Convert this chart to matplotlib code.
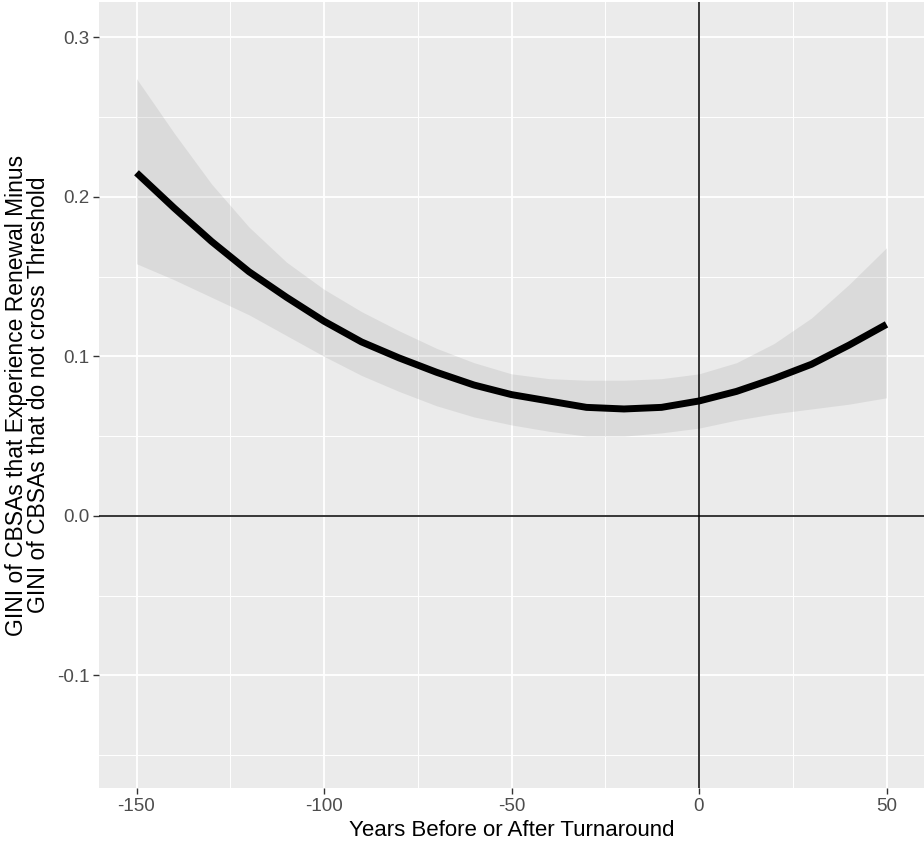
import matplotlib
matplotlib.use("Agg")
import matplotlib.pyplot as plt
from matplotlib.ticker import MultipleLocator

plt.rcParams['font.family'] = ['Liberation Sans', 'DejaVu Sans']

# values
years = [-150, -140, -130, -120, -110, -100, -90, -80, -70, -60, -50,
         -40, -30, -20, -10, 0, 10, 20, 30, 40, 50]
fit = [0.215, 0.193, 0.172, 0.153, 0.137, 0.122, 0.109, 0.099, 0.090, 0.082, 0.076,
       0.072, 0.068, 0.067, 0.068, 0.072, 0.078, 0.086, 0.095, 0.107, 0.120]
upper = [0.274, 0.240, 0.208, 0.181, 0.159, 0.142, 0.128, 0.116, 0.105, 0.096, 0.089,
         0.086, 0.085, 0.085, 0.086, 0.089, 0.096, 0.108, 0.124, 0.145, 0.168]
lower = [0.158, 0.148, 0.137, 0.126, 0.113, 0.100, 0.088, 0.078, 0.069, 0.062, 0.057,
         0.053, 0.050, 0.050, 0.052, 0.055, 0.060, 0.064, 0.067, 0.070, 0.074]

fig = plt.figure(figsize=(9.24, 8.46), dpi=100)
ax = fig.add_axes([99 / 924, 58 / 846, 1 - 99 / 924, 786 / 846])
ax.set_facecolor('#EBEBEB')
for s in ax.spines.values():
    s.set_visible(False)

ax.set_xlim(-160, 60)
ax.set_ylim(-0.1705, 0.322)
ax.xaxis.set_major_locator(MultipleLocator(50))
ax.xaxis.set_minor_locator(MultipleLocator(25))
ax.yaxis.set_major_locator(MultipleLocator(0.1))
ax.yaxis.set_minor_locator(MultipleLocator(0.05))
ax.grid(which='major', color='white', lw=1.3)
ax.grid(which='minor', color='white', lw=0.7)
ax.set_axisbelow(True)

ax.fill_between(years, lower, upper, color='#999999', alpha=0.2, lw=0, zorder=2)
ax.plot(years, fit, color='black', lw=5, zorder=3, solid_capstyle='butt')
ax.axhline(0, color='black', lw=1.1, zorder=4)
ax.axvline(0, color='black', lw=1.1, zorder=4)

ax.set_yticks([-0.1, 0.0, 0.1, 0.2, 0.3])
ax.set_yticklabels(['-0.1', '0.0', '0.1', '0.2', '0.3'])
ax.set_xticks([-150, -100, -50, 0, 50])
ax.set_xticklabels(['-150', '-100', '-50', '0', '50'])
ax.tick_params(which='major', length=4, width=1, color='#333333',
               labelcolor='#4D4D4D', labelsize=13.5, pad=3)
ax.tick_params(which='minor', length=0)

ax.set_xlabel('Years Before or After Turnaround', fontsize=16, labelpad=4)
ax.set_ylabel('GINI of CBSAs that Experience Renewal Minus\nGINI of CBSAs that do not cross Threshold',
              fontsize=16.5, labelpad=5, linespacing=0.95)

fig.savefig('out.png', dpi=100)
